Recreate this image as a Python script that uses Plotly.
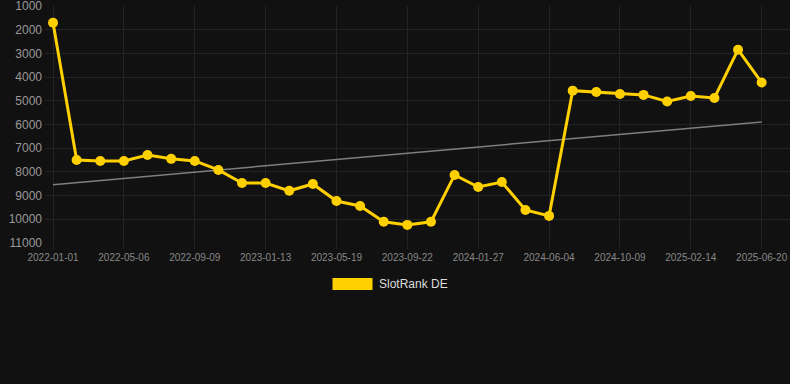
import plotly.graph_objects as go

dates = [
    "2022-01-01", "2022-02-12", "2022-03-25", "2022-05-06", "2022-06-17", "2022-07-28",
    "2022-09-09", "2022-10-21", "2022-12-01", "2023-01-13", "2023-02-24", "2023-04-07",
    "2023-05-19", "2023-06-30", "2023-08-10", "2023-09-22", "2023-11-03", "2023-12-15",
    "2024-01-27", "2024-03-10", "2024-04-22", "2024-06-04", "2024-07-16", "2024-08-27",
    "2024-10-09", "2024-11-20", "2025-01-02", "2025-02-14", "2025-03-28", "2025-05-09",
    "2025-06-20",
]
rank_de = [
    1700, 7500, 7540, 7540, 7290, 7450,
    7540, 7920, 8470, 8470, 8800, 8510,
    9230, 9440, 10110, 10240, 10110, 8130,
    8640, 8430, 9610, 9860, 4570, 4630,
    4710, 4750, 5030, 4800, 4880, 2840,
    4230,
]
trend_x = [dates[0], dates[-1]]
trend_y = [8540, 5890]

tick_labels = dates[::3]
y_ticks = [1000, 2000, 3000, 4000, 5000, 6000, 7000, 8000, 9000, 10000, 11000]
y_tick_text = [str(v) for v in y_ticks]

BG = "#111111"
GRID = "#232323"
GOLD = "#FFD000"

fig = go.Figure()
fig.add_trace(go.Scatter(
    x=trend_x, y=trend_y, mode="lines",
    line=dict(color="#7f7f7f", width=1.5),
    hoverinfo="skip", showlegend=False,
))
fig.add_trace(go.Scatter(
    x=dates, y=rank_de, mode="lines+markers", name="SlotRank DE",
    line=dict(color=GOLD, width=3),
    marker=dict(color=GOLD, size=10),
    showlegend=False,
))

fig.update_layout(
    width=790, height=384,
    paper_bgcolor=BG, plot_bgcolor=BG,
    margin=dict(l=45, r=0, t=6, b=141),
    font=dict(family="Liberation Sans, Arial, sans-serif"),
    xaxis=dict(
        type="category",
        categoryorder="array", categoryarray=dates,
        range=[-0.34, 31.2],
        tickmode="array", tickvals=tick_labels, ticktext=tick_labels,
        showgrid=True, gridcolor=GRID, gridwidth=1,
        ticks="outside", ticklen=5, tickcolor=GRID,
        tickfont=dict(size=10, color="#888888"),
        ticklabeloverflow="allow",
        zeroline=False, showline=False,
    ),
    yaxis=dict(
        range=[11004, 996],
        tickmode="array", tickvals=y_ticks, ticktext=y_tick_text,
        showgrid=True, gridcolor=GRID, gridwidth=1,
        tickfont=dict(size=12, color="#999999"),
        ticklabelstandoff=2,
        ticklabeloverflow="allow",
        zeroline=False, showline=False,
    ),
    showlegend=False,
    shapes=[dict(
        type="rect", xref="paper", yref="paper",
        x0=(332.5 - 45) / 745, x1=(372.5 - 45) / 745,
        y0=(243 - 290) / 237, y1=(243 - 278) / 237,
        fillcolor=GOLD, line=dict(width=0),
    )],
    annotations=[dict(
        text="SlotRank DE", xref="paper", yref="paper",
        x=(376.5 - 45) / 745, y=(243 - 284) / 237,
        xanchor="left", yanchor="middle", showarrow=False,
        font=dict(size=12, color="#dddddd"),
    )],
)

fig.write_html(
    "out.html",
    config={"displayModeBar": False},
    post_script="document.body.style.margin='0';document.body.style.background='#111111';",
)
